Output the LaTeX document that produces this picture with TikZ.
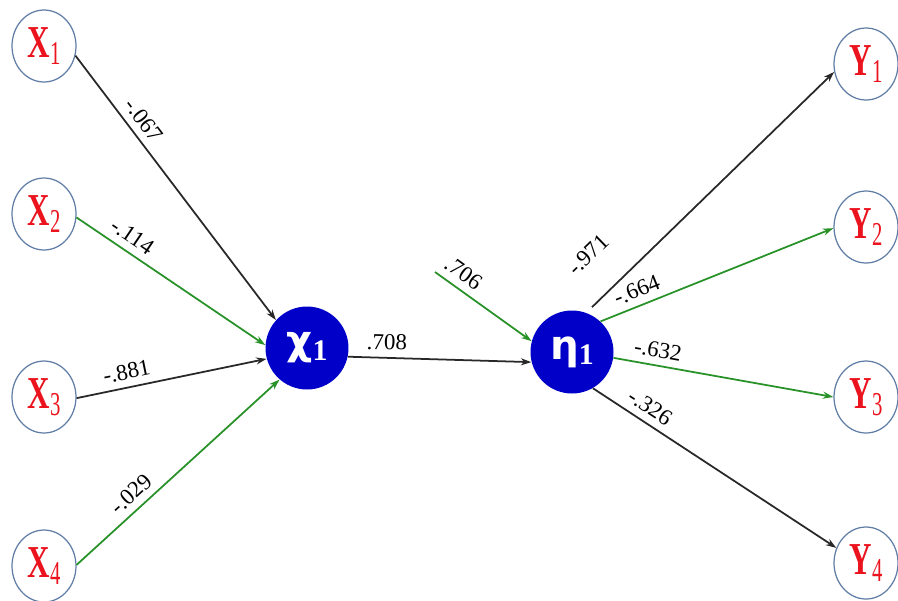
\documentclass[tikz,border=0pt]{standalone}
\usepackage{fontspec}
\usepackage{graphicx}
\setmainfont{Liberation Serif}
\newfontfamily\greekfont{DejaVu Sans}
\usetikzlibrary{arrows.meta,shapes.geometric}

\definecolor{varred}{RGB}{235,20,30}
\definecolor{rimblue}{RGB}{95,125,165}
\definecolor{latblue}{RGB}{0,0,200}
\definecolor{pathgreen}{RGB}{40,145,40}
\definecolor{pathblack}{RGB}{40,40,40}

\newcommand{\mvar}[2]{{\fontsize{26}{26}\selectfont\bfseries\scalebox{0.68}[1]{#1}}\raisebox{-4pt}{\fontsize{19}{19}\selectfont\scalebox{0.62}[1]{#2}}}
\newcommand{\lvar}[1]{{\greekfont\bfseries\fontsize{23}{23}\selectfont #1}\raisebox{-3pt}{\fontsize{17}{17}\selectfont\bfseries 1}}

\begin{document}
\begin{tikzpicture}[x=0.02cm, y=-0.02cm]
      \useasboundingbox (0,0) rectangle (898,600);
      \begin{scope}[every node/.style={ellipse,draw=rimblue,line width=0.7pt,fill=white,
          minimum width=1.28cm,minimum height=1.44cm,inner sep=0pt,text=varred}]
        \node (X1) at (44,46) {\mvar{X}{1}};
        \node (X2) at (44,214) {\mvar{X}{2}};
        \node (X3) at (44,397) {\mvar{X}{3}};
        \node (X4) at (44,566) {\mvar{X}{4}};
        \node (Y1) at (866,64) {\mvar{Y}{1}};
        \node (Y2) at (866,227) {\mvar{Y}{2}};
        \node (Y3) at (866,397) {\mvar{Y}{3}};
        \node (Y4) at (866,563) {\mvar{Y}{4}};
      \end{scope}
      \begin{scope}[every node/.style={circle,fill=latblue,minimum size=1.66cm,inner sep=0pt,text=white}]
        \node (chi) at (307,348) {\lvar{χ}};
        \node (eta) at (572,352) {\lvar{η}};
      \end{scope}
      \coordinate (err) at (435,272);
      \begin{scope}
        [every edge/.style={draw, line width=1pt, -{Stealth[length=6pt,width=4pt]}},
        every node/.style={sloped,above=2pt,inner sep=2pt,text=black,font=\fontsize{13}{13}\selectfont}]
        \path (X1.-17) edge[pathblack] node[pos=.28] {-.067} (chi.138);
        \path (X2.-6) edge[pathgreen] node[pos=.25] {-.114} (chi.176);
        \path (X3.-2) edge[pathblack] node[pos=.28] {-.881} (chi.195);
        \path (X4.2) edge[pathgreen] node[pos=.32] {-.029} (chi.229);
        \path (chi.-12) edge[pathblack] node[pos=.21] {.708} (eta.194);
        \path (err) edge[pathgreen] node[pos=.2] {.706} (eta.165);
        \path (eta.70) edge[pathblack, shorten <=0.16cm] node[pos=.12, above=14pt] {-.971} (Y1.194);
        \path (eta.47) edge[pathgreen] node[pos=.18] {-.664} (Y2.182);
        \path (eta.-8) edge[pathgreen] node[pos=.19] {-.632} (Y3.180);
        \path (eta.-60) edge[pathblack] node[pos=.2] {-.326} (Y4.153);
      \end{scope}
    \end{tikzpicture}
\end{document}
